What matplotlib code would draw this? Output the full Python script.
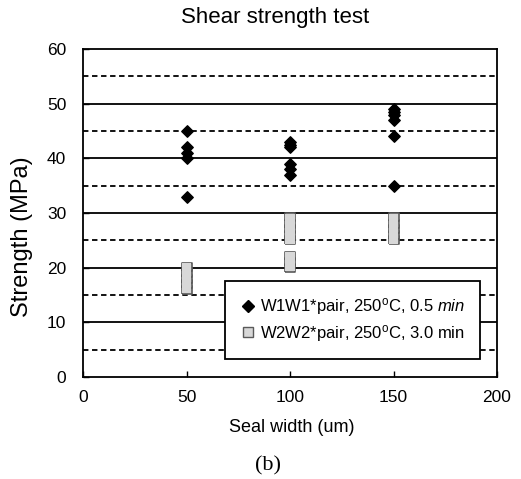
import matplotlib
matplotlib.use("Agg")
import matplotlib.pyplot as plt
import numpy as np

# Data
w1_x = [50, 50, 50, 50, 50, 100, 100, 100, 100, 100, 100, 150, 150, 150, 150, 150, 150]
w1_y = [45, 42, 41, 40, 33, 43, 42.5, 42, 39, 38, 37, 49, 48.5, 48, 47, 44, 35]
w2_x = [50, 50, 50, 50, 50, 100, 100, 100, 100, 100, 100, 100, 100, 150, 150, 150, 150, 150]
w2_y = [16, 17, 18, 19, 20.2, 25, 26, 27, 28, 29.2, 20, 21, 22.2, 25, 26, 27, 28, 29.2]
xticks = [0, 50, 100, 150, 200]
yticks = [0, 10, 20, 30, 40, 50, 60]
label1 = r"W1W1*pair, 250$^{\rm o}$C, 0.5 $\it{min}$"
label2 = r"W2W2*pair, 250$^{\rm o}$C, 3.0 min"

plt.rcParams['font.family'] = ['Liberation Sans', 'DejaVu Sans']
plt.rcParams['mathtext.fontset'] = 'custom'
plt.rcParams['mathtext.rm'] = 'Liberation Sans'
plt.rcParams['mathtext.it'] = 'Liberation Sans:italic'
W, H = 521, 479
fig = plt.figure(figsize=(W / 100, H / 100), dpi=100)
ax = fig.add_axes([83 / W, 1 - 377 / H, 414 / W, 328 / H])
ax.set_xlim(0, 200)
ax.set_ylim(0, 60)

for y in range(10, 60, 10):
    ax.axhline(y, color='black', lw=1.3, zorder=1)
for y in range(5, 60, 10):
    ax.axhline(y, color='black', lw=1.3, ls=(0, (3, 2)), zorder=1)

rect = [(-0.5, -0.4), (0.5, -0.4), (0.5, 0.4), (-0.5, 0.4), (-0.5, -0.4)]
ax.scatter(w2_x, w2_y, marker=rect, s=44, facecolor='#d8d8d8', edgecolor='#5a5a5a',
           linewidths=1.2, zorder=3, antialiased=False)
ax.scatter(w2_x, w2_y, marker=rect, s=44, facecolor='#d8d8d8', edgecolor='none',
           zorder=3.5, antialiased=False)
ax.scatter(w1_x, w1_y, marker='D', s=34, color='black', zorder=4)

h1 = plt.Line2D([], [], marker='D', color='black', ls='none', markersize=6)
h2 = plt.Line2D([], [], marker='s', markerfacecolor='#d8d8d8', markeredgecolor='#5a5a5a',
                ls='none', markersize=7)
leg = ax.legend([h1, h2], [label1, label2], loc='lower right', bbox_to_anchor=(0.959, 0.055),
                frameon=True, fancybox=False, edgecolor='black', framealpha=1,
                fontsize=12, handletextpad=0.2, borderpad=0.9, labelspacing=0.35,
                handlelength=1.0, borderaxespad=0)
leg.get_frame().set_linewidth(1.3)
leg.set_zorder(5)

ax.set_xticks(xticks)
ax.set_yticks(yticks)
ax.tick_params(direction='in', labelsize=12.5, length=4, width=1)
ax.tick_params(axis='x', pad=9)
ax.tick_params(axis='y', pad=12)
for s in ax.spines.values():
    s.set_linewidth(1.3)

fig.text(292 / W, 1 - 428 / H, "Seal width (um)", fontsize=13, ha='center', va='center')
fig.text(22 / W, 1 - 237 / H, "Strength (MPa)", fontsize=17, ha='center', va='center',
         rotation=90)
fig.text(275 / W, 1 - 17 / H, "Shear strength test", fontsize=16, ha='center', va='center')
fig.text(268 / W, 1 - 466 / H, "(b)", fontsize=16, family='Liberation Serif',
         ha='center', va='center')

fig.savefig("out.png", dpi=100)
